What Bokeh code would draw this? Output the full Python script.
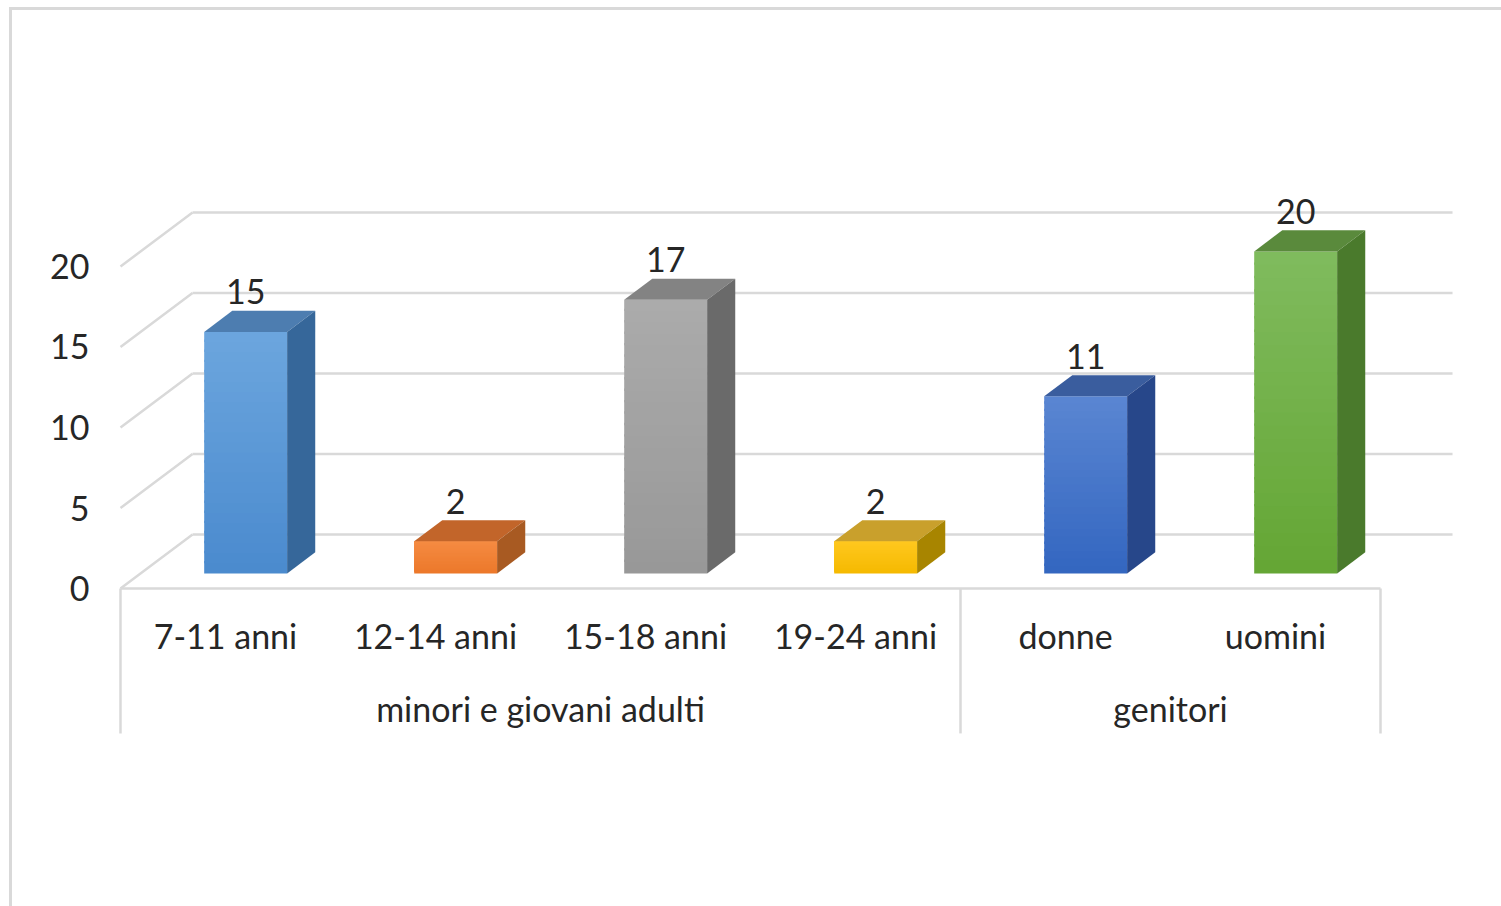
from bokeh.plotting import figure
from bokeh.models import FactorRange, FixedTicker, Range1d, CategoricalAxis
from bokeh.core.properties import value
from bokeh.embed import file_html
from bokeh.resources import INLINE

# ---- data ----
groups = ["minori e giovani adulti"] * 4 + ["genitori"] * 2
categories = ["7-11 anni", "12-14 anni", "15-18 anni", "19-24 anni", "donne", "uomini"]
values = [15, 2, 17, 2, 11, 20]
y_ticks = [0, 5, 10, 15, 20]

# ---- styles ----
front_top = ["#6CA6DE", "#F58B42", "#ABABAB", "#FFC81F", "#5A86D2", "#80BB5E"]
front_bot = ["#4A8ACE", "#EC782A", "#989898", "#F5B900", "#3366C0", "#64A634"]
top_colors = ["#4D7DB0", "#C2652A", "#838383", "#C9A02C", "#3A5D9E", "#5A8A3C"]
side_colors = ["#36679A", "#A85A22", "#6A6A6A", "#A88500", "#27478A", "#4A7A2C"]
FONT = "Lato"
FS = "34px"
TXT = "#262626"
GRID = "#d9d9d9"
LW = 2.5

# projection (layout constants)
DX = 0.343   # depth shift in category units
DY = 3.35    # depth shift in value units
D1, D2 = 0.28, 0.67
W = 0.395
PAD = 0.5714  # symmetric padding of the category range

factors = list(zip(groups, categories))
x_range = FactorRange(*factors, group_padding=0, factor_padding=0,
                      range_padding=PAD, range_padding_units="absolute")

p = figure(x_range=x_range, y_range=Range1d(-19.75, 36.52), width=1501, height=906,
           output_backend="svg", toolbar_location=None,
           min_border_left=0, min_border_right=1, min_border_top=0, min_border_bottom=0)
p.outline_line_color = None
p.background_fill_color = None
p.border_fill_color = None
p.styles = {
    "background": "linear-gradient(#d9d9d9,#d9d9d9) 9px 7px / 3px 100% no-repeat, "
                  "linear-gradient(#d9d9d9,#d9d9d9) 9px 7px / 100% 3px no-repeat, white"
}
p.xgrid.visible = False
p.ygrid.visible = False

# y axis (drawn at the front-left corner)
ya = p.yaxis[0]
ya.fixed_location = 0
ya.ticker = FixedTicker(ticks=y_ticks)
ya.axis_line_color = None
ya.major_tick_line_color = None
ya.minor_tick_line_color = None
ya.major_label_standoff = 25
ya.major_label_text_font = FONT
ya.major_label_text_font_size = FS
ya.major_label_text_color = TXT


def style_cat_axis(ax, standoff, show_major, show_group):
    ax.fixed_location = 0
    ax.axis_line_color = None
    ax.major_tick_line_color = None
    ax.major_label_standoff = standoff
    ax.major_label_text_font = FONT
    ax.major_label_text_font_size = FS
    ax.major_label_text_color = TXT if show_major else None
    ax.group_text_font = FONT
    ax.group_text_font_size = FS
    ax.group_text_color = TXT if show_group else None
    ax.group_text_font_style = "normal"
    if "separator_line_color" in CategoricalAxis.properties():
        ax.separator_line_color = None


# x axis along the front edge of the floor: category level
style_cat_axis(p.xaxis[0], 20, True, False)
# second copy of the axis for the group level, lower down
gx = CategoricalAxis()
style_cat_axis(gx, 93, False, True)
p.add_layout(gx, "below")

n = len(categories)
xt = [t + DY for t in y_ticks]

# floor front edge
p.segment(x0=[0], y0=[0], x1=[n], y1=[0], line_color=GRID, line_width=LW)
# left wall diagonals
p.segment(x0=[0] * len(y_ticks), y0=y_ticks, x1=[DX] * len(y_ticks), y1=xt,
          line_color=GRID, line_width=LW)
# back wall gridlines
p.segment(x0=[DX] * len(y_ticks), y0=xt, x1=[n + DX] * len(y_ticks), y1=xt,
          line_color=GRID, line_width=LW)
# category axis separators (start, between groups, end)
sep_x = [0, groups.count(groups[0]), n]
p.segment(x0=sep_x, y0=[0] * 3, x1=sep_x, y1=[-9.0] * 3, line_color=GRID, line_width=LW)


def mix(c1, c2, t):
    a = [int(c1[k:k + 2], 16) for k in (1, 3, 5)]
    b = [int(c2[k:k + 2], 16) for k in (1, 3, 5)]
    return "#%02x%02x%02x" % tuple(round(a[j] + (b[j] - a[j]) * t) for j in range(3))


NS = 24
for i, v in enumerate(values):
    cx = i + 0.5
    xl, xr = cx - W / 2, cx + W / 2
    y0 = D1 * DY
    ytop = v + y0
    # front face with vertical gradient (overlapping strips to avoid seams)
    lefts, rights, bots, tops, cols = [], [], [], [], []
    for k in range(NS):
        b = y0 + v * k / NS
        t = min(y0 + v * (k + 1) / NS + 0.15, ytop)
        c = mix(front_bot[i], front_top[i], (k + 0.5) / NS)
        lefts.append(xl + D1 * DX); rights.append(xr + D1 * DX)
        bots.append(b); tops.append(t); cols.append(c)
    p.quad(left=lefts, right=rights, bottom=bots, top=tops, fill_color=cols, line_color=None)
    # top face
    p.patch(x=[xl + D1 * DX, xr + D1 * DX, xr + D2 * DX, xl + D2 * DX],
            y=[ytop, ytop, v + D2 * DY, v + D2 * DY],
            fill_color=top_colors[i], line_color=None)
    # side face
    p.patch(x=[xr + D1 * DX, xr + D2 * DX, xr + D2 * DX, xr + D1 * DX],
            y=[D1 * DY, D2 * DY, v + D2 * DY, ytop],
            fill_color=side_colors[i], line_color=None)

# value labels
p.text(x=[i + 0.5 + D1 * DX for i in range(n)], y=[v + D2 * DY for v in values],
       text=[str(v) for v in values], text_align="center", text_baseline="middle",
       y_offset=-19, text_font=value(FONT), text_font_size=FS, text_color=TXT)

open("out.html", "w").write(file_html(p, INLINE))
